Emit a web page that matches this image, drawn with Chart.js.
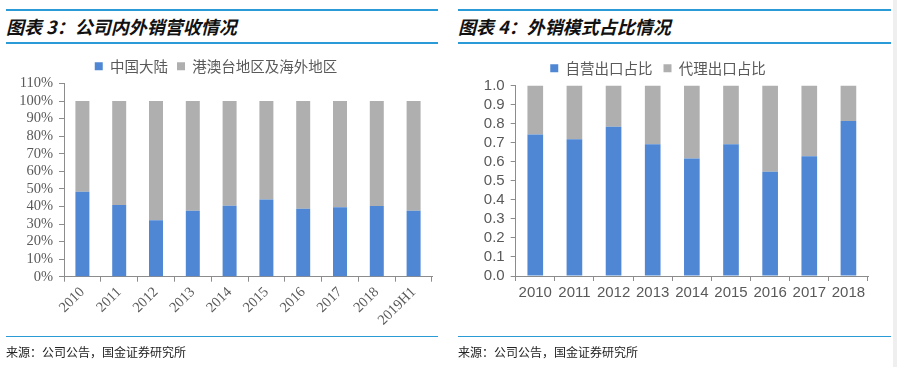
<!DOCTYPE html>
<html>
<head>
<meta charset="utf-8">
<script src="https://cdn.jsdelivr.net/npm/chart.js@4"></script>
<style>
  body { margin: 0; width: 897px; height: 367px; background: #fff; position: relative; overflow: hidden; font-family: "Noto Sans CJK SC", sans-serif; }
  .line { position: absolute; height: 2px; background: #2a9bd6; }
  .line.thin { height: 1px; }
  .title { position: absolute; top: 13px; font-size: 18px; font-weight: bold; font-style: italic; color: #111; white-space: nowrap; }
  .src { position: absolute; top: 343px; font-size: 12px; color: #222; white-space: nowrap; }
  .box { position: absolute; }
  .strip { position: absolute; left: 893px; top: 0; width: 4px; height: 367px; background: #efefef; }
</style>
</head>
<body>
<div class="line" style="left:6px;top:9px;width:432px"></div>
<div class="title" style="left:6px">图表 3：公司内外销营收情况</div>
<div class="line" style="left:6px;top:42px;width:432px"></div>
<div class="box" style="left:0;top:50px;width:448px;height:290px"><canvas id="c1"></canvas></div>
<div class="line thin" style="left:6px;top:336px;width:432px"></div>
<div class="src" style="left:6px">来源：公司公告，国金证券研究所</div>

<div class="line" style="left:458px;top:9px;width:433px"></div>
<div class="title" style="left:458px">图表 4：外销模式占比情况</div>
<div class="line" style="left:458px;top:42px;width:433px"></div>
<div class="box" style="left:448px;top:50px;width:449px;height:290px"><canvas id="c2"></canvas></div>
<div class="line thin" style="left:458px;top:336px;width:433px"></div>
<div class="src" style="left:458px">来源：公司公告，国金证券研究所</div>
<div class="strip"></div>

<script>
// 图表3 数据
const years1 = ['2010', '2011', '2012', '2013', '2014', '2015', '2016', '2017', '2018', '2019H1'];
const mainland = [48.3, 40.8, 32.1, 37.6, 40.4, 44.0, 38.7, 39.5, 40.2, 37.6];
const overseas = mainland.map(v => +(100 - v).toFixed(1)); // 两者合计为100%
const pctTicks = [0, 10, 20, 30, 40, 50, 60, 70, 80, 90, 100, 110];

// 图表4 数据
const years2 = ['2010', '2011', '2012', '2013', '2014', '2015', '2016', '2017', '2018'];
const selfExport = [0.743, 0.718, 0.783, 0.692, 0.617, 0.692, 0.547, 0.629, 0.814];
const agentExport = selfExport.map(v => +(1 - v).toFixed(3));

const BLUE = '#4f87d4';
const GRAY = '#afafaf';
const AXIS = '#8c8c8c';
const TXT = '#595959';

Chart.defaults.animation = false;
Chart.defaults.maintainAspectRatio = false;
Chart.defaults.responsive = true;

function legendOpts(pad) {
    return {
        position: 'top',
        labels: {
            boxWidth: 8, boxHeight: 8, padding: pad,
            color: TXT,
            font: { family: '"Noto Sans CJK SC", sans-serif', size: 14.5 }
        }
    };
}

new Chart(document.getElementById('c1'), {
    type: 'bar',
    data: {
        labels: years1,
        datasets: [
            { label: '中国大陆', data: mainland, backgroundColor: BLUE, barPercentage: 0.38, categoryPercentage: 1 },
            { label: '港澳台地区及海外地区', data: overseas, backgroundColor: GRAY, barPercentage: 0.38, categoryPercentage: 1 }
        ]
    },
    options: {
        layout: { padding: { left: 0, right: 16, top: 0, bottom: 0 } },
        plugins: { legend: legendOpts(9), tooltip: { enabled: false } },
        scales: {
            x: {
                stacked: true,
                grid: { display: true, drawOnChartArea: false, offset: true, tickLength: 5, color: AXIS },
                border: { color: AXIS },
                ticks: {
                    autoSkip: false, minRotation: 45, maxRotation: 45, color: TXT, padding: 2,
                    font: { family: '"Liberation Serif", serif', size: 14.5 }
                },
                afterFit: s => { s.height = 63.3; }
            },
            y: {
                stacked: true, min: 0, max: 110,
                grid: { drawOnChartArea: false, tickLength: 5, color: AXIS },
                border: { color: AXIS },
                afterBuildTicks: s => { s.ticks = pctTicks.map(v => ({ value: v })); },
                ticks: {
                    autoSkip: false, color: TXT, padding: 6,
                    font: { family: '"Liberation Serif", serif', size: 14.5 },
                    callback: v => v + '%'
                },
                afterFit: s => { s.width = 64; }
            }
        }
    }
});

new Chart(document.getElementById('c2'), {
    type: 'bar',
    data: {
        labels: years2,
        datasets: [
            { label: '自营出口占比', data: selfExport, backgroundColor: BLUE, barPercentage: 0.4, categoryPercentage: 1 },
            { label: '代理出口占比', data: agentExport, backgroundColor: GRAY, barPercentage: 0.4, categoryPercentage: 1 }
        ]
    },
    options: {
        layout: { padding: { left: 0, right: 29, top: 0, bottom: 0 } },
        plugins: { legend: legendOpts(11), tooltip: { enabled: false } },
        scales: {
            x: {
                stacked: true,
                grid: { display: true, drawOnChartArea: false, offset: true, tickLength: 5, color: AXIS },
                border: { color: AXIS },
                ticks: {
                    autoSkip: false, maxRotation: 0, color: TXT, padding: 3,
                    font: { family: '"Liberation Sans", Arial, sans-serif', size: 15 }
                },
                afterFit: s => { s.height = 64; }
            },
            y: {
                stacked: true, min: 0, max: 1,
                grid: { drawOnChartArea: false, tickLength: 5, color: AXIS },
                border: { color: AXIS },
                ticks: {
                    autoSkip: false, stepSize: 0.1, color: TXT, padding: 6,
                    font: { family: '"Liberation Sans", Arial, sans-serif', size: 15 },
                    callback: v => v.toFixed(1)
                },
                afterFit: s => { s.width = 67.7; }
            }
        }
    }
});
</script>
</body>
</html>
